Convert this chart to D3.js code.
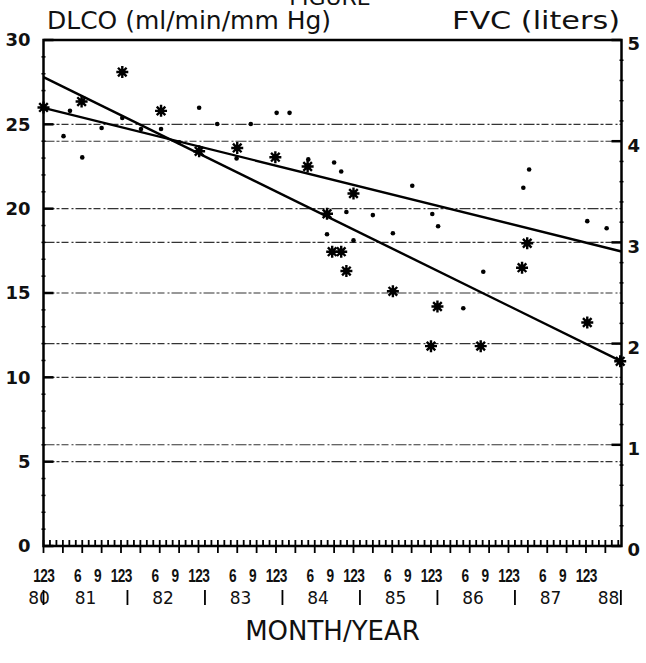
<!DOCTYPE html>
<html>
<head>
<meta charset="utf-8">
<script src="https://cdn.jsdelivr.net/npm/d3@7/dist/d3.min.js"></script>
<style>
  body { margin: 0; background: #fff; }
  svg text { fill: #111; }
</style>
</head>
<body>
<svg width="646" height="663"></svg>
<script>
// month index: 0 = first "1" label (Jan 1980)
const dlcoMonth = [1.0, 6.9, 13.2, 19.2, 25.1, 31.0, 36.9, 41.9, 44.9, 45.7, 47.1, 47.9, 49.0, 55.1, 62.0, 61.0, 68.7, 75.1, 75.9, 85.2, 90.3];
const dlcoValue = [26.0, 26.35, 28.1, 25.8, 23.4, 23.6, 23.05, 22.5, 19.7, 17.45, 17.45, 16.3, 20.9, 15.1, 14.2, 11.85, 11.85, 16.5, 17.95, 13.25, 10.95];

const fvcMonth = [5.1, 4.1, 7.0, 10.0, 13.2, 16.1, 19.2, 22.0, 25.1, 27.9, 30.9, 33.1, 37.1, 39.1, 42.0, 44.9, 46.0, 47.1, 47.9, 49.0, 52.0, 55.1, 58.1, 61.2, 62.1, 66.0, 69.1, 75.3, 76.2, 85.2, 88.2];
const fvcValue = [4.30, 4.05, 3.84, 4.13, 4.23, 4.12, 4.12, 3.99, 4.33, 4.17, 3.83, 4.17, 4.28, 4.28, 3.82, 3.08, 3.79, 3.70, 3.30, 3.02, 3.27, 3.09, 3.56, 3.28, 3.16, 2.35, 2.71, 3.54, 3.72, 3.21, 3.14];

// regression lines, value at start and end of the time axis
const dlcoFit = [27.8, 10.95];
const fvcFit = [4.33, 2.91];

const dlcoTicks = [0, 5, 10, 15, 20, 25, 30];
const fvcTicks = [0, 1, 2, 3, 4, 5];
const monthLabels = ["1", "2", "3", "6", "9"];
const monthLabelAt = [0, 1.08, 2.16, 6.3, 9.4];
const yearLabels = ["80", "81", "82", "83", "84", "85", "86", "87", "88"];

const svg = d3.select("svg");
const x = d3.scaleLinear().domain([1, 90.5]).range([43.5, 621.5]);
const y = d3.scaleLinear().domain([0, 30]).range([546, 40]);
const y2 = d3.scaleLinear().domain([0, 5]).range([546, 40]);
const [x0, x1] = x.range();

// grid lines
const grid = svg.append("g")
  .attr("stroke", "#333")
  .attr("stroke-width", 1.1)
  .attr("stroke-dasharray", "11,2,3,2,7,3,2,2");
grid.selectAll("line.g1").data(dlcoTicks.filter(d => d > 0 && d < 30))
  .enter().append("line")
  .attr("x1", x0).attr("x2", x1)
  .attr("y1", d => y(d)).attr("y2", d => y(d));
grid.selectAll("line.g2").data(fvcTicks.filter(d => d > 0 && d < 5))
  .enter().append("line")
  .attr("x1", x0).attr("x2", x1)
  .attr("y1", d => y2(d)).attr("y2", d => y2(d));

// frame
svg.append("path")
  .attr("d", `M${x0},${y(0)}V${y(30)}H${x1}V${y(0)}Z`)
  .attr("fill", "none").attr("stroke", "#000").attr("stroke-width", 2.5);

// left ticks
svg.append("g").selectAll("line")
  .data(d3.range(0, 31))
  .enter().append("line")
  .attr("x1", d => d % 5 === 0 ? x0 : x0 - 2)
  .attr("x2", d => d % 5 === 0 ? x0 + 10 : x0 + 2)
  .attr("y1", d => y(d)).attr("y2", d => y(d))
  .attr("stroke", "#000").attr("stroke-width", d => d % 5 === 0 ? 2.5 : 1.5);

// right ticks
svg.append("g").selectAll("line")
  .data(d3.range(0, 26).map(d => d / 5))
  .enter().append("line")
  .attr("x1", d => Number.isInteger(d) ? x1 - 10 : x1 - 2)
  .attr("x2", d => Number.isInteger(d) ? x1 : x1 + 2)
  .attr("y1", d => y2(d)).attr("y2", d => y2(d))
  .attr("stroke", "#000").attr("stroke-width", d => Number.isInteger(d) ? 2.5 : 1.5);

// month ticks along the bottom
svg.append("g").selectAll("line")
  .data(d3.range(1, 91))
  .enter().append("line")
  .attr("x1", d => x(d)).attr("x2", d => x(d))
  .attr("y1", y(0) - 6)
  .attr("y2", d => d % 3 === 1 ? y(0) + 7 : y(0))
  .attr("stroke", "#000").attr("stroke-width", 1.8);

// left tick labels
svg.append("g").selectAll("text")
  .data(dlcoTicks)
  .enter().append("text")
  .attr("x", x0 - 13).attr("y", d => y(d)).attr("dy", "0.36em")
  .attr("text-anchor", "end")
  .style("font-family", "'DejaVu Sans', sans-serif")
  .style("font-size", "18px").style("font-weight", "bold")
  .text(d => d);

// right tick labels
svg.append("g").selectAll("text")
  .data(fvcTicks)
  .enter().append("text")
  .attr("x", x1 + 6).attr("y", d => y2(d) + 4).attr("dy", "0.36em")
  .style("font-family", "'DejaVu Sans', sans-serif")
  .style("font-size", "18px").style("font-weight", "bold")
  .text(d => d);

// month labels
const monthRow = [];
d3.range(0, 8).forEach(k => {
  monthLabels.forEach((lab, i) => {
    if (k === 7 && i > 2) return;
    monthRow.push({ lab: lab, m: 12 * k + monthLabelAt[i] });
  });
});
svg.append("g").selectAll("text")
  .data(monthRow)
  .enter().append("text")
  .attr("transform", d => `translate(${x(d.m)},582) scale(0.72,1)`)
  .attr("text-anchor", "middle")
  .style("font-family", "'Liberation Sans', Arial, sans-serif")
  .style("font-size", "19px").style("font-weight", "bold")
  .text(d => d.lab);

// year labels and separators
const [m0, m1] = x.domain();
svg.append("g").selectAll("text")
  .data(yearLabels)
  .enter().append("text")
  .attr("x", d => x(Math.max(m0 - 0.7, Math.min(m1 - 2, 12 * (+d - 81) + 7.5))))
  .attr("y", 604)
  .attr("text-anchor", "middle")
  .style("font-family", "'DejaVu Sans', sans-serif")
  .style("font-size", "17px")
  .text(d => d);
const seps = yearLabels.slice(2, 8).map(d => 12 * (+d - 81) + 2).concat([m0, m1 - 0.1]);
svg.append("g").selectAll("line")
  .data(seps)
  .enter().append("line")
  .attr("x1", d => x(d)).attr("x2", d => x(d))
  .attr("y1", 590).attr("y2", 605)
  .attr("stroke", "#000").attr("stroke-width", 1.8);

// titles
svg.append("text")
  .attr("x", 330).attr("y", 5)
  .attr("text-anchor", "middle")
  .style("font-family", "'DejaVu Sans', sans-serif")
  .style("font-size", "22px")
  .text("FIGURE");
svg.append("text")
  .attr("x", 47).attr("y", 29)
  .attr("textLength", 284).attr("lengthAdjust", "spacingAndGlyphs")
  .style("font-family", "'DejaVu Sans', sans-serif")
  .style("font-size", "25px")
  .text("DLCO (ml/min/mm Hg)");
svg.append("text")
  .attr("x", 452).attr("y", 29)
  .attr("textLength", 168).attr("lengthAdjust", "spacingAndGlyphs")
  .style("font-family", "'DejaVu Sans', sans-serif")
  .style("font-size", "25px")
  .text("FVC (liters)");
svg.append("text")
  .attr("x", (x0 + x1) / 2).attr("y", 640)
  .attr("text-anchor", "middle")
  .style("font-family", "'DejaVu Sans', sans-serif")
  .style("font-size", "26px")
  .text("MONTH/YEAR");

// regression lines
const fitLine = d3.line().x(d => x(d[0])).y(d => d[1]);
svg.append("path")
  .attr("d", fitLine([[m0, y(dlcoFit[0])], [m1, y(dlcoFit[1])]]))
  .attr("fill", "none").attr("stroke", "#000").attr("stroke-width", 2.4);
svg.append("path")
  .attr("d", fitLine([[m0, y2(fvcFit[0])], [m1, y2(fvcFit[1])]]))
  .attr("fill", "none").attr("stroke", "#000").attr("stroke-width", 2.4);

// FVC dots
svg.append("g").selectAll("circle")
  .data(fvcMonth.map((m, i) => [m, fvcValue[i]]))
  .enter().append("circle")
  .attr("cx", d => x(d[0])).attr("cy", d => y2(d[1]))
  .attr("r", 2.3).attr("fill", "#000");

// DLCO asterisks
const star = "M-6,0H6M0,-6V6M-4.3,-4.3L4.3,4.3M-4.3,4.3L4.3,-4.3";
const stars = svg.append("g").selectAll("g")
  .data(dlcoMonth.map((m, i) => [m, dlcoValue[i]]))
  .enter().append("g")
  .attr("transform", d => `translate(${x(d[0])},${y(d[1])})`);
stars.append("path").attr("d", star)
  .attr("stroke", "#000").attr("stroke-width", 2.4).attr("fill", "none");
stars.append("circle").attr("r", 3).attr("fill", "#000");
</script>
</body>
</html>
